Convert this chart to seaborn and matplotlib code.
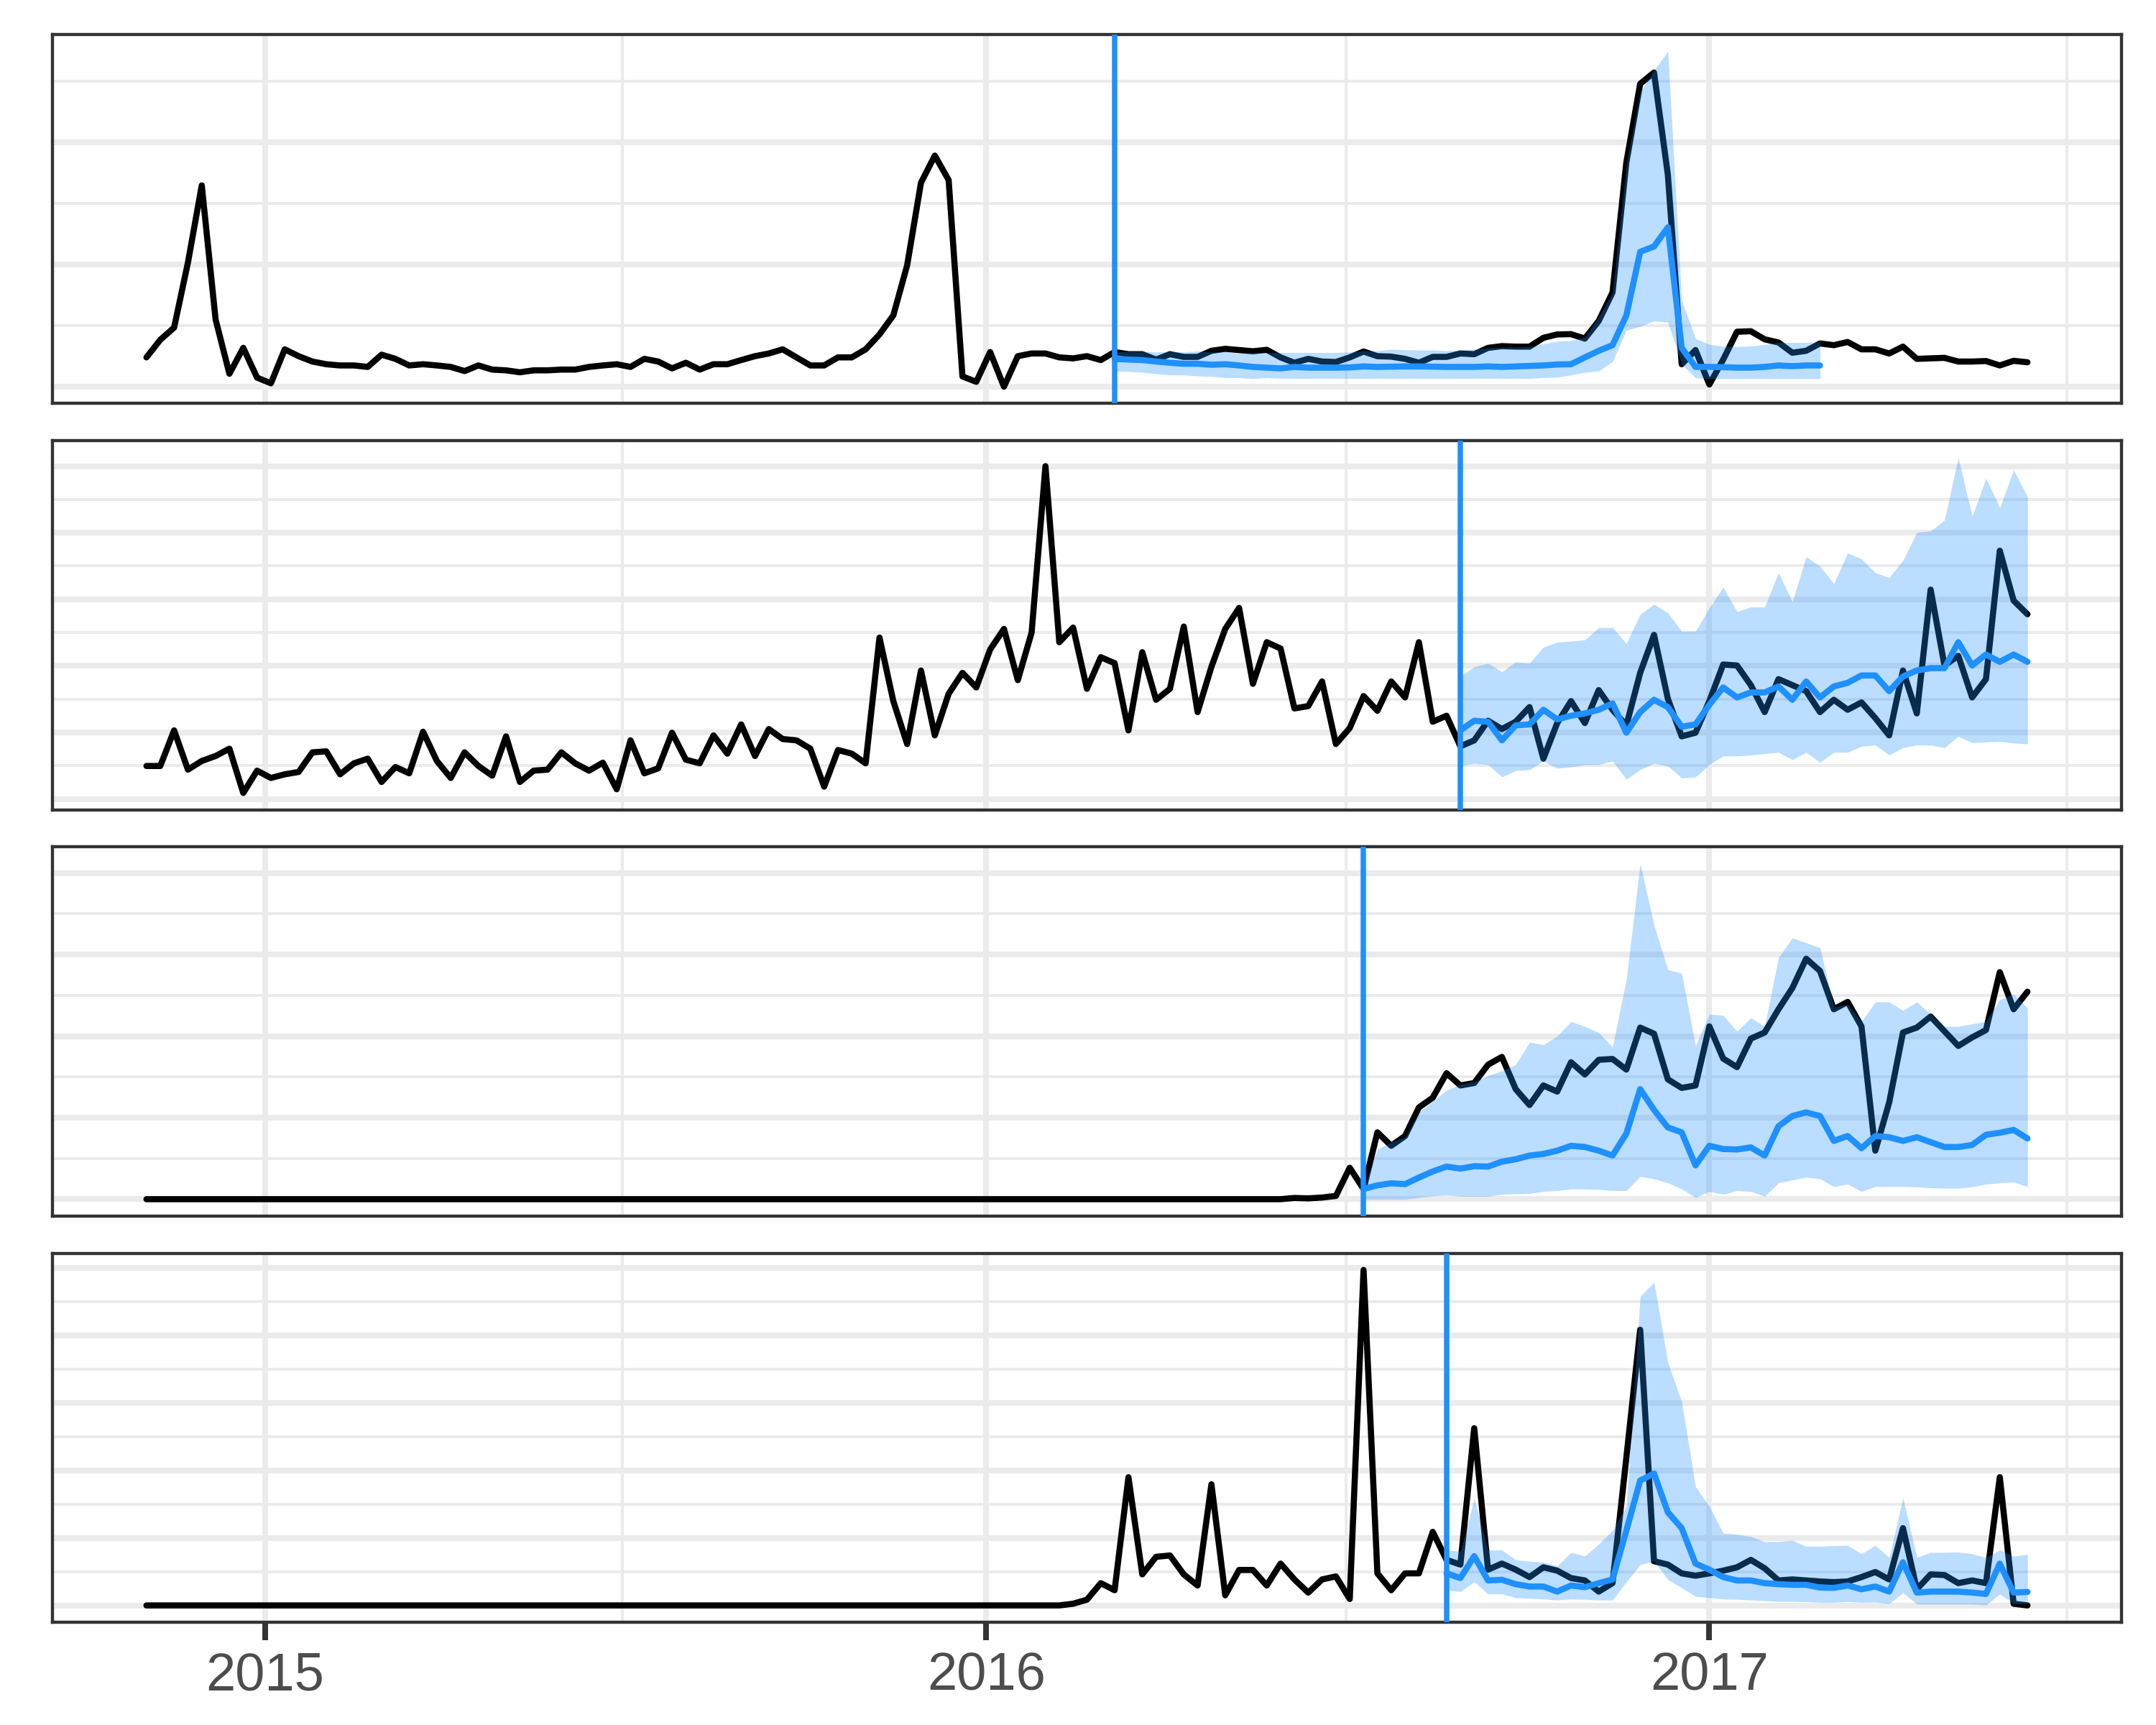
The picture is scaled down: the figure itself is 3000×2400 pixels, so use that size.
import pandas as pd
import numpy as np
import matplotlib
matplotlib.use("Agg")
import matplotlib.pyplot as plt
import matplotlib.dates as mdates
from matplotlib.ticker import MultipleLocator, AutoMinorLocator
import seaborn as sns

# weekly observations, Sundays
weeks = pd.date_range("2014-11-02", periods=137, freq="7D")

# ---- panel 1 ----
p1_actual = [
    12.0, 19.2, 24.2, 50.8, 82.4, 27.5, 5.3, 15.9, 3.7, 1.4,
    15.3, 12.5, 10.3, 9.2, 8.7, 8.7, 8.1, 13.1, 11.4, 8.7,
    9.2, 8.7, 8.1, 6.4, 8.7, 7.0, 6.7, 5.9, 6.7, 6.7,
    7.0, 7.0, 8.1, 8.7, 9.2, 8.1, 11.4, 10.3, 7.5, 9.8,
    7.0, 9.2, 9.2, 10.9, 12.5, 13.6, 15.3, 12.0, 8.7, 8.7,
    12.0, 12.0, 15.3, 21.4, 29.2, 49.7, 83.5, 94.6, 84.6, 4.2,
    2.0, 14.2, 0.0, 12.5, 13.6, 13.6, 12.0, 11.6, 12.5, 10.9,
    14.2, 13.3, 13.3, 11.1, 13.3, 12.2, 12.2, 14.7, 15.5, 15.0,
    14.5, 15.1, 12.0, 9.8, 11.4, 10.3, 10.1, 12.0, 14.4, 12.5,
    12.3, 11.4, 9.8, 12.2, 12.2, 13.6, 13.3, 15.9, 16.6, 16.4,
    16.4, 20.0, 21.4, 21.5, 19.7, 26.9, 38.6, 91.8, 124.0, 128.6,
    86.8, 9.2, 15.0, 0.9, 11.1, 22.5, 22.7, 19.4, 18.1, 13.9,
    14.7, 17.7, 17.0, 18.3, 15.3, 15.3, 13.6, 16.4, 11.4, 11.6,
    11.8, 10.3, 10.3, 10.5, 8.7, 10.6, 10.0,
]
p1_start = "2016-03-06"
p1_fc = [
    11.4, 11.1, 10.9, 10.3, 9.8, 9.4, 9.4, 9.0, 9.2, 8.7,
    8.1, 7.8, 7.5, 8.1, 7.8, 7.8, 7.8, 7.9, 8.3, 8.1,
    8.2, 8.3, 8.3, 8.2, 8.1, 8.1, 8.1, 8.3, 8.1, 8.3,
    8.5, 8.7, 9.1, 9.2, 12.0, 14.7, 17.0, 29.2, 55.2, 57.4,
    65.2, 15.9, 8.1, 8.1, 8.0, 7.8, 7.8, 8.1, 8.7, 8.4,
    8.7, 8.7,
]
p1_hi = [
    14.2, 14.4, 14.4, 14.2, 14.4, 14.2, 14.6, 14.2, 14.4, 13.6,
    14.0, 14.0, 14.0, 14.0, 14.0, 14.0, 14.0, 14.2, 14.7, 14.7,
    15.3, 15.1, 15.0, 15.0, 14.7, 15.0, 15.3, 15.9, 16.2, 16.2,
    16.4, 17.5, 18.6, 18.9, 20.3, 28.6, 38.6, 90.7, 120.7, 129.5,
    137.3, 35.3, 19.7, 17.3, 16.6, 16.4, 16.6, 17.3, 18.1, 18.1,
    18.1, 18.3,
]
p1_lo = [
    6.4, 6.2, 5.9, 5.3, 4.8, 4.8, 4.4, 4.2, 3.7, 3.7,
    3.3, 3.7, 3.4, 3.4, 3.4, 3.4, 3.4, 3.4, 3.4, 3.4,
    3.4, 3.4, 3.4, 3.4, 3.4, 3.4, 3.4, 3.4, 3.4, 3.4,
    3.4, 3.7, 3.9, 4.8, 5.9, 6.4, 10.3, 23.1, 24.7, 26.9,
    26.4, 9.2, 3.7, 3.3, 3.3, 3.3, 3.3, 3.3, 3.3, 3.3,
    3.3, 3.3,
]

# ---- panel 2 ----
p2_actual = [
    9.9, 9.9, 20.6, 8.8, 11.4, 12.9, 15.1, 1.8, 8.5, 6.3,
    7.4, 8.1, 14.0, 14.3, 7.4, 10.7, 12.1, 5.1, 9.6, 7.7,
    20.2, 11.4, 6.3, 14.0, 9.9, 7.0, 18.8, 5.1, 8.5, 8.8,
    14.0, 10.7, 8.5, 10.9, 2.9, 17.6, 7.7, 9.2, 19.9, 11.8,
    10.7, 19.1, 13.6, 22.4, 12.9, 21.0, 18.0, 17.6, 15.1, 3.7,
    14.7, 13.6, 10.7, 48.5, 29.4, 16.5, 38.6, 19.1, 31.6, 37.9,
    33.5, 44.9, 51.1, 35.7, 50.0, 100.0, 47.1, 51.5, 33.1, 42.6,
    40.8, 20.6, 44.1, 29.8, 33.1, 51.8, 26.1, 39.7, 51.1, 57.4,
    34.6, 47.1, 45.2, 27.2, 27.9, 35.3, 16.5, 21.3, 30.9, 26.5,
    35.3, 30.5, 47.1, 23.2, 25.0, 15.8, 17.6, 23.5, 21.0, 23.2,
    27.6, 12.1, 22.8, 29.4, 22.8, 32.7, 26.8, 22.1, 37.9, 49.3,
    30.1, 18.8, 19.9, 29.4, 40.4, 40.1, 34.2, 26.1, 36.0, 34.2,
    32.4, 26.1, 29.8, 26.8, 29.0, 24.3, 19.1, 38.6, 25.7, 62.9,
    40.1, 43.0, 30.5, 36.0, 74.6, 59.6, 55.5,
]
p2_start = "2016-08-28"
p2_fc = [
    20.6, 23.5, 23.2, 17.6, 22.1,
    22.4, 26.8, 23.9, 25.0, 25.7, 26.8, 28.7, 19.9, 26.1, 29.8,
    27.6, 21.7, 22.4, 28.3, 33.5, 30.5, 32.0, 32.0, 33.8, 29.8,
    35.3, 30.5, 33.8, 34.9, 37.1, 37.1, 32.4, 36.8, 38.6, 39.3,
    39.3, 47.1, 40.1, 43.4, 41.2, 43.4, 41.2,
]
p2_hi = [
    36.8, 39.7, 40.8, 38.2, 41.2,
    40.8, 45.6, 47.1, 47.4, 47.8, 51.5, 51.5, 46.7, 55.5, 58.5,
    55.9, 50.4, 50.4, 57.4, 63.6, 56.3, 57.7, 57.7, 68.0, 59.2,
    72.8, 69.9, 64.7, 73.9, 72.1, 68.0, 66.5, 71.7, 80.1, 80.5,
    83.8, 102.6, 84.9, 96.3, 87.5, 98.9, 90.8,
]
p2_lo = [
    9.9, 10.7, 10.3, 6.6, 8.5,
    8.8, 11.4, 9.2, 9.6, 10.3, 10.3, 11.4, 5.9, 8.8, 10.7,
    9.9, 6.3, 6.6, 10.3, 12.9, 12.9, 13.2, 13.6, 14.0, 11.8,
    14.0, 11.0, 14.0, 14.0, 15.8, 16.2, 13.2, 15.4, 16.2, 16.2,
    15.4, 18.8, 16.9, 17.1, 17.3, 16.8, 16.5,
]

# ---- panel 3 ----
p3_actual = [
    0.0, 0.0, 0.0, 0.0, 0.0, 0.0, 0.0, 0.0, 0.0, 0.0,
    0.0, 0.0, 0.0, 0.0, 0.0, 0.0, 0.0, 0.0, 0.0, 0.0,
    0.0, 0.0, 0.0, 0.0, 0.0, 0.0, 0.0, 0.0, 0.0, 0.0,
    0.0, 0.0, 0.0, 0.0, 0.0, 0.0, 0.0, 0.0, 0.0, 0.0,
    0.0, 0.0, 0.0, 0.0, 0.0, 0.0, 0.0, 0.0, 0.0, 0.0,
    0.0, 0.0, 0.0, 0.0, 0.0, 0.0, 0.0, 0.0, 0.0, 0.0,
    0.0, 0.0, 0.0, 0.0, 0.0, 0.0, 0.0, 0.0, 0.0, 0.0,
    0.0, 0.0, 0.0, 0.0, 0.0, 0.0, 0.0, 0.0, 0.0, 0.0,
    0.0, 0.0, 0.0, 0.3, 0.2, 0.4, 0.8, 7.7, 2.5, 16.4,
    13.1, 15.5, 22.5, 24.9, 30.9, 27.9, 28.5, 33.0, 34.9, 27.0,
    23.1, 27.9, 26.4, 33.6, 30.6, 34.2, 34.4, 31.8, 42.1, 40.6,
    29.4, 27.3, 27.9, 42.4, 34.5, 32.4, 39.4, 40.9, 46.6, 51.8,
    59.0, 56.0, 46.6, 48.4, 42.4, 11.9, 23.7, 40.9, 42.1, 44.8,
    41.2, 37.6, 39.7, 41.5, 55.7, 46.6, 50.9,
]
p3_start = "2016-07-10"
p3_fc = [
    2.5, 3.4,
    3.9, 3.7, 5.3, 6.8, 8.0, 7.5, 8.1, 8.0, 9.2, 9.8,
    10.7, 11.1, 11.9, 13.1, 12.8, 11.9, 10.7, 16.1, 27.0, 21.9,
    17.6, 16.4, 8.3, 13.1, 12.3, 12.2, 12.7, 10.7, 17.9, 20.4,
    21.3, 20.4, 14.3, 15.5, 12.5, 15.5, 15.2, 14.3, 15.2, 14.0,
    12.8, 12.8, 13.3, 15.8, 16.3, 17.0, 14.9,
]
p3_hi = [
    2.5, 12.2,
    14.0, 15.2, 21.3, 24.0, 26.7, 28.2, 28.8, 30.3, 31.5, 33.0,
    38.5, 37.9, 40.0, 43.6, 42.4, 40.9, 37.3, 53.9, 82.3, 67.2,
    56.3, 55.4, 37.6, 45.4, 45.1, 41.2, 44.5, 42.4, 59.3, 64.1,
    62.9, 61.7, 47.2, 47.8, 43.6, 48.4, 48.4, 46.3, 48.4, 45.4,
    42.4, 42.4, 43.0, 43.6, 49.0, 50.3, 46.9,
]
p3_lo = [
    0.0, 0.0,
    0.0, 0.0, 0.4, 0.8, 1.0, 0.7, 0.7, 0.7, 1.2, 1.3,
    1.4, 1.9, 2.1, 2.5, 2.5, 2.4, 2.1, 2.1, 5.6, 5.0,
    4.0, 2.5, 0.4, 1.9, 1.2, 2.1, 1.9, 0.7, 4.0, 4.7,
    5.4, 5.0, 3.1, 3.7, 1.9, 3.1, 3.1, 3.1, 3.0, 2.8,
    2.7, 2.7, 3.0, 3.7, 4.0, 4.2, 3.1,
]

# ---- panel 4 ----
p4_actual = [
    0.0, 0.0, 0.0, 0.0, 0.0, 0.0, 0.0, 0.0, 0.0, 0.0,
    0.0, 0.0, 0.0, 0.0, 0.0, 0.0, 0.0, 0.0, 0.0, 0.0,
    0.0, 0.0, 0.0, 0.0, 0.0, 0.0, 0.0, 0.0, 0.0, 0.0,
    0.0, 0.0, 0.0, 0.0, 0.0, 0.0, 0.0, 0.0, 0.0, 0.0,
    0.0, 0.0, 0.0, 0.0, 0.0, 0.0, 0.0, 0.0, 0.0, 0.0,
    0.0, 0.0, 0.0, 0.0, 0.0, 0.0, 0.0, 0.0, 0.0, 0.0,
    0.0, 0.0, 0.0, 0.0, 0.0, 0.0, 0.0, 0.5, 1.7, 6.6,
    4.5, 38.0, 9.2, 14.4, 14.8, 9.2, 5.9, 35.9, 3.0, 10.5,
    10.5, 5.9, 12.4, 7.7, 3.8, 7.7, 8.6, 1.9, 99.4, 9.5,
    4.5, 9.5, 9.5, 21.8, 13.5, 12.1, 52.5, 10.6, 12.4, 10.6,
    8.4, 11.3, 10.3, 8.1, 7.4, 4.1, 6.6, 43.8, 81.7, 13.1,
    12.1, 9.5, 8.8, 9.5, 10.3, 11.3, 13.5, 11.0, 7.4, 7.7,
    7.4, 7.1, 6.9, 7.1, 8.4, 9.9, 7.7, 22.9, 4.8, 9.2,
    9.0, 6.6, 7.4, 6.6, 38.0, 0.5, 0.0,
]
p4_start = "2016-08-21"
p4_fc = [
    9.5, 8.1, 14.6, 7.4, 7.6, 6.3,
    5.6, 5.6, 4.1, 5.9, 5.4, 6.6, 7.7, 22.2, 37.0, 39.1,
    27.6, 22.9, 12.4, 10.6, 8.4, 7.4, 7.4, 6.6, 6.3, 6.1,
    6.1, 5.3, 5.2, 5.9, 4.8, 5.6, 4.1, 12.8, 3.8, 4.1,
    4.1, 4.1, 3.8, 3.4, 12.4, 3.8, 4.0,
]
p4_hi = [
    16.4, 16.0, 31.6, 16.4, 16.4, 13.5,
    13.1, 12.8, 11.7, 15.7, 14.6, 18.2, 22.2, 29.4, 91.5, 95.8,
    72.0, 60.4, 35.2, 29.4, 21.4, 21.1, 20.4, 18.9, 18.9, 19.3,
    17.5, 17.5, 17.7, 17.8, 15.3, 17.8, 14.2, 31.9, 14.2, 15.7,
    15.7, 15.8, 15.3, 14.2, 16.4, 14.6, 15.1,
]
p4_lo = [
    4.5, 4.1, 7.0, 3.4, 3.4, 2.3,
    2.1, 1.9, 1.6, 1.9, 1.8, 1.6, 1.6, 7.0, 12.1, 13.1,
    7.7, 5.2, 2.7, 2.3, 1.9, 1.8, 1.6, 1.4, 1.2, 1.2,
    1.1, 0.9, 0.9, 1.1, 0.9, 1.0, 0.5, 3.8, 0.4, 0.4,
    0.4, 0.4, 0.4, 0.1, 3.4, 0.5, 0.5,
]

panels = [
    (p1_actual, p1_start, p1_fc, p1_lo, p1_hi, 50),
    (p2_actual, p2_start, p2_fc, p2_lo, p2_hi, 20),
    (p3_actual, p3_start, p3_fc, p3_lo, p3_hi, 20),
    (p4_actual, p4_start, p4_fc, p4_lo, p4_hi, 20),
]

BLUE = "#1E90FF"
GRID = "#EBEBEB"
DARK = "#333333"

sns.set_theme(style="white")
plt.rcParams["font.family"] = ["Liberation Sans", "DejaVu Sans"]

fig, axes = plt.subplots(4, 1, figsize=(10, 8), dpi=300, sharex=True)
fig.subplots_adjust(left=0.0243, right=0.984, top=0.98, bottom=0.0596, hspace=0.101)

for k, (ax, (actual, start, fc, lo, hi, step)) in enumerate(zip(axes, panels)):
    fc_dates = pd.date_range(start, periods=len(fc), freq="7D")

    sns.lineplot(x=weeks, y=actual, ax=ax, color="black", linewidth=2.05, zorder=2)
    ax.fill_between(fc_dates, lo, hi, color=BLUE, alpha=0.3, linewidth=0, zorder=3)
    sns.lineplot(x=fc_dates, y=fc, ax=ax, color=BLUE, linewidth=2.05, zorder=4)
    ax.axvline(pd.Timestamp(start), color=BLUE, linewidth=1.8, zorder=4)

    ax.margins(x=0.05, y=0.05)
    ax.set_axisbelow(True)
    ax.yaxis.set_major_locator(MultipleLocator(step))
    ax.yaxis.set_minor_locator(AutoMinorLocator(2))
    ax.xaxis.set_major_locator(mdates.YearLocator())
    ax.xaxis.set_minor_locator(mdates.MonthLocator(bymonth=7))
    ax.xaxis.set_major_formatter(mdates.DateFormatter("%Y"))

    ax.grid(True, which="major", color=GRID, linewidth=1.9)
    ax.grid(True, which="minor", color=GRID, linewidth=0.95)
    for sp in ax.spines.values():
        sp.set_visible(True)
        sp.set_color(DARK)
        sp.set_linewidth(1.05)

    ax.set_xlabel("")
    ax.set_ylabel("")
    ax.tick_params(axis="y", which="both", left=False, labelleft=False)
    if k < 3:
        ax.tick_params(axis="x", which="both", bottom=False, labelbottom=False)
    else:
        ax.tick_params(axis="x", which="major", bottom=True, length=6, width=1.9,
                       color=DARK, labelsize=17.8, labelcolor="#4D4D4D", pad=3.8)
        ax.tick_params(axis="x", which="minor", bottom=False)

fig.savefig("out.png", dpi=300)
